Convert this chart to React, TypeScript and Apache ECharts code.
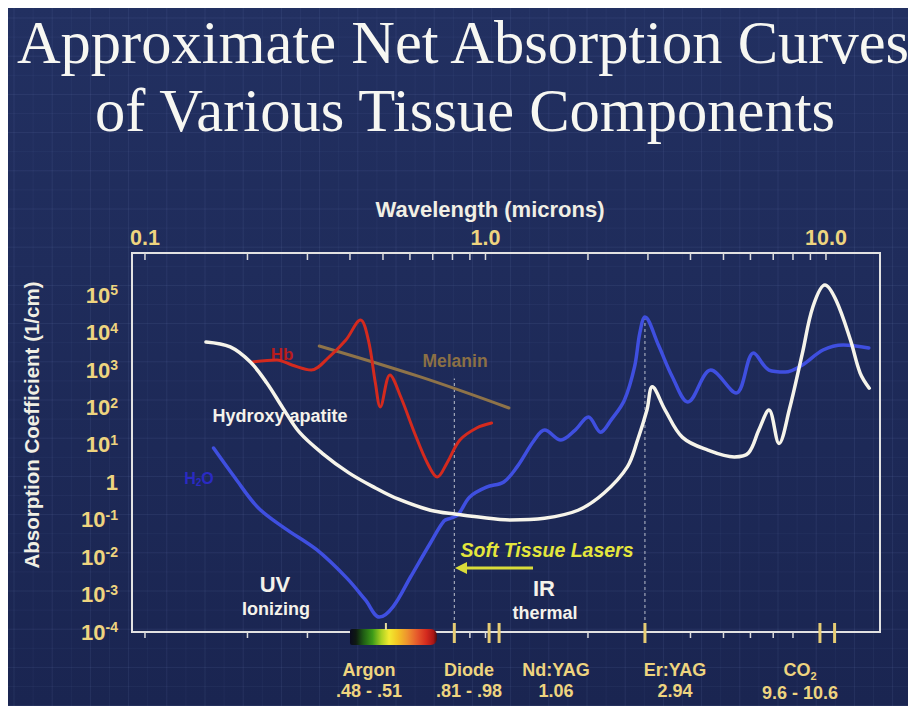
import { useEffect, useRef } from 'react';
import * as echarts from 'echarts';

// Wavelength (microns) vs net absorption coefficient (1/cm)
const hydroxyapatite: [number, number][] = [
  [0.151, 5700], [0.178, 4200], [0.204, 1650], [0.228, 455], [0.254, 98],
  [0.284, 22], [0.331, 6.1], [0.397, 1.8], [0.475, 0.71], [0.553, 0.36],
  [0.689, 0.18], [0.824, 0.14], [0.942, 0.12], [1.18, 0.099], [1.49, 0.11],
  [1.87, 0.18], [2.23, 0.52], [2.61, 2.6], [2.8, 14], [2.98, 86], [3.09, 360],
  [3.37, 86], [3.79, 16], [4.5, 7.3], [5.38, 4.8], [5.92, 6.1], [6.35, 25],
  [6.8, 86], [7.28, 11], [7.8, 86], [8.53, 2900], [9.15, 49000], [9.93, 190000],
  [10.7, 75000], [11.8, 6400], [12.6, 840], [13.4, 330],
];

const water: [number, number][] = [
  [0.159, 8.3], [0.184, 1.31], [0.215, 0.21], [0.257, 0.06], [0.32, 0.0156],
  [0.391, 0.0028], [0.444, 0.00072], [0.488, 0.00025], [0.535, 0.00047],
  [0.603, 0.003], [0.689, 0.024], [0.756, 0.093], [0.79, 0.11], [0.83, 0.135],
  [0.899, 0.41], [1.007, 0.75], [1.132, 1.03], [1.238, 2.6], [1.392, 13.6],
  [1.492, 25], [1.665, 13.6], [1.834, 25], [2.006, 56], [2.179, 22], [2.34, 47],
  [2.56, 160], [2.74, 1220], [2.84, 9900], [2.94, 26400], [3.22, 4700],
  [3.54, 660], [3.93, 141], [4.59, 1010], [5.45, 246], [6.13, 2880], [6.8, 1010],
  [7.59, 895], [8.53, 1380], [9.8, 3470], [11.24, 4720], [13.36, 3920],
];

const hemoglobin: [number, number][] = [
  [0.2065, 1660], [0.244, 1880], [0.27, 1380], [0.308, 1010], [0.347, 2250],
  [0.389, 6400], [0.4295, 22000], [0.453, 6400], [0.475, 455], [0.491, 104],
  [0.524, 745], [0.564, 192], [0.619, 21], [0.675, 3.3], [0.722, 1.39],
  [0.771, 3.3], [0.841, 13.6], [0.942, 28.5], [1.042, 38.7],
];

const melanin: [number, number][] = [
  [0.325, 4440], [0.644, 660], [1.172, 97.5],
];

// axis ticks
const xTickValues = [0.1, 1, 10];
const xMinorTicksTop = [0.1, 0.2, 0.3, 0.4, 0.5, 0.6, 0.7, 0.8, 0.9, 1, 2, 3, 4, 5, 6, 7, 8, 9, 10];
const xMinorTicksBottom = [0.1, 0.2, 0.3, 0.9, 1, 2, 4, 5, 6, 7, 8];
const yTickExponents = [-4, -3, -2, -1, 0, 1, 2, 3, 4, 5];

// laser lines marked under the wavelength axis
const laserNames = ['Argon', 'Diode', 'Nd:YAG', 'Er:YAG', 'CO2'];
const laserRanges = ['.48 - .51', '.81 - .98', '1.06', '2.94', '9.6 - 10.6'];
const laserTicks = [0.81, 1.06, 2.94, 9.6, 10.6];
const laserTickDouble = [false, true, false, false, false];
const argonTick = 0.51;
const visibleBand = [0.4, 0.72];
// dotted guides: [wavelength, top absorption]
const guideLines: [number, number][] = [[0.81, 600], [2.94, 26400]];

const X_MIN = 0.0916;
const X_MAX = 14.41;
const Y_MIN = 1e-4;
const Y_MAX = 1.36e6;

const SANS = '"Liberation Sans", Arial, Helvetica, sans-serif';
const SERIF = '"Liberation Serif", "Times New Roman", serif';
const GOLD = '#eed47f';
const W = 908;
const H = 698;
const laserLabelX = [361, 461, 548, 667, 792];

function isDecade(v: number, allowed: number[]) {
  const l = Math.log10(v);
  const r = Math.round(l);
  return Math.abs(l - r) < 1e-6 && allowed.includes(r) ? r : null;
}

function backgroundGrid() {
  const els: any[] = [];
  const step = 19.1;
  let i = 0;
  for (let x = 6; x < W; x += step, i++) {
    els.push({
      type: 'line', silent: true, z: -5,
      shape: { x1: x, y1: 0, x2: x, y2: H },
      style: { stroke: i % 2 ? 'rgba(150,170,230,0.05)' : 'rgba(150,170,230,0.10)', lineWidth: 1 },
    });
  }
  i = 0;
  for (let y = 10; y < H; y += step, i++) {
    els.push({
      type: 'line', silent: true, z: -5,
      shape: { x1: 0, y1: y, x2: W, y2: y },
      style: { stroke: i % 2 ? 'rgba(150,170,230,0.05)' : 'rgba(150,170,230,0.10)', lineWidth: 1 },
    });
  }
  return els;
}

function text(x: number, y: number, t: string, size: number, fill: string, extra: any = {}) {
  return {
    type: 'text', x, y, z: 1, silent: true,
    style: {
      text: t, fill, fontSize: size, fontWeight: 'bold', fontFamily: SANS,
      align: 'center', verticalAlign: 'middle', ...extra,
    },
  };
}

function buildOption(): any {
  const curve = (name: string, data: [number, number][], color: string, width: number) => ({
    name, type: 'line', data, smooth: 0.35, showSymbol: false, symbol: 'none', silent: true,
    lineStyle: { color, width, cap: 'round', join: 'round' },
  });

  const graphics: any[] = [
    ...backgroundGrid(),
    {
      type: 'text', x: 455, y: 34, z: 1, silent: true,
      style: { text: 'Approximate Net Absorption Curves', fill: '#f7f7f2', fontSize: 60.5, fontFamily: SERIF, align: 'center', verticalAlign: 'middle' },
    },
    {
      type: 'text', x: 457, y: 102, z: 1, silent: true,
      style: { text: 'of Various Tissue Components', fill: '#f7f7f2', fontSize: 60.5, fontFamily: SERIF, align: 'center', verticalAlign: 'middle' },
    },
    text(482, 201, 'Wavelength (microns)', 22, '#f1efe4'),
    { ...text(23, 417, 'Absorption Coefficient (1/cm)', 20.5, '#f1efe4'), rotation: Math.PI / 2 },
    text(274, 346, 'Hb', 17, '#b81c1c'),
    text(447, 353, 'Melanin', 17.5, '#8b7045'),
    text(272, 408, 'Hydroxy apatite', 18, '#f4f2ea'),
    {
      type: 'text', x: 191, y: 470, z: 1, silent: true,
      style: {
        text: '{a|H}{b|2}{a|O}', align: 'center', verticalAlign: 'middle',
        rich: {
          a: { fontSize: 16, fontWeight: 'bold', fontFamily: SANS, fill: '#2a2ac4', lineHeight: 19 },
          b: { fontSize: 10, fontWeight: 'bold', fontFamily: SANS, fill: '#2a2ac4', verticalAlign: 'bottom', lineHeight: 10 },
        },
      },
    },
    text(267, 576, 'UV', 22, '#f4f2ea'),
    text(268, 601, 'Ionizing', 18, '#f4f2ea'),
    text(536, 580, 'IR', 22, '#f4f2ea'),
    text(537, 605, 'thermal', 18, '#f4f2ea'),
    text(539, 542, 'Soft Tissue Lasers', 19.5, '#e4e63c', { fontStyle: 'italic' }),
    {
      type: 'line', z: 1, silent: true,
      shape: { x1: 525, y1: 560, x2: 455, y2: 560 },
      style: { stroke: '#d9dc3a', lineWidth: 3 },
    },
    {
      type: 'polygon', z: 1, silent: true,
      shape: { points: [[447, 560], [459, 554], [459, 566]] },
      style: { fill: '#d9dc3a' },
    },
  ];

  laserNames.forEach((n, i) => {
    const x = laserLabelX[i];
    if (n === 'CO2') {
      graphics.push({
        type: 'text', x, y: 662, z: 1, silent: true,
        style: {
          text: '{a|CO}{b|2}', align: 'center', verticalAlign: 'middle',
          rich: {
            a: { fontSize: 18, fontWeight: 'bold', fontFamily: SANS, fill: GOLD, lineHeight: 22 },
            b: { fontSize: 11, fontWeight: 'bold', fontFamily: SANS, fill: GOLD, verticalAlign: 'bottom', lineHeight: 11 },
          },
        },
      });
    } else {
      graphics.push(text(x, 662, n, 18, GOLD));
    }
    graphics.push(text(x, n === 'CO2' ? 685 : 683, laserRanges[i], 18, GOLD));
  });

  const tickStyle = { stroke: '#dcdcdc', lineWidth: 1.5 };

  return {
    animation: false,
    backgroundColor: new echarts.graphic.LinearGradient(0, 0, 0, 1, [
      { offset: 0, color: '#223061' },
      { offset: 1, color: '#1a2551' },
    ]),
    grid: {
      left: 124, top: 245, width: 748, height: 379, show: true,
      borderColor: '#e2e2e2', borderWidth: 2, backgroundColor: 'transparent', z: 3,
    },
    xAxis: {
      type: 'log', logBase: 10, min: X_MIN, max: X_MAX, position: 'top',
      axisLine: { show: false }, axisTick: { show: false }, splitLine: { show: false },
      axisLabel: {
        margin: 4, color: GOLD, fontSize: 21.5, fontWeight: 'bold', fontFamily: SANS,
        formatter: (v: number) => {
          const r = isDecade(v, xTickValues.map((t) => Math.round(Math.log10(t))));
          return r === null ? '' : v.toFixed(1);
        },
      },
    },
    yAxis: {
      type: 'log', logBase: 10, min: Y_MIN, max: Y_MAX, interval: 1,
      axisLine: { show: false }, axisTick: { show: false }, splitLine: { show: false },
      axisLabel: {
        margin: 14, color: GOLD,
        formatter: (v: number) => {
          const r = isDecade(v, yTickExponents);
          if (r === null) return '';
          return r === 0 ? '{b|1}' : `{b|10}{s|${r}}`;
        },
        rich: {
          b: { fontSize: 22, fontWeight: 'bold', fontFamily: SANS, color: GOLD, lineHeight: 24 },
          s: { fontSize: 14, fontWeight: 'bold', fontFamily: SANS, color: GOLD, verticalAlign: 'top', lineHeight: 14 },
        },
      },
    },
    graphic: { elements: graphics },
    series: [
      ...guideLines.map(([x, top]) => ({
        type: 'line', silent: true, symbol: 'none', z: 1,
        data: [[x, Y_MIN], [x, top]],
        lineStyle: { color: '#b9bdca', width: 1, type: [3, 3] },
      })),
      curve('Melanin', melanin, '#8e7349', 3),
      curve('Hb', hemoglobin, '#d42a1e', 3),
      curve('H2O', water, '#3f4fe0', 3.5),
      curve('Hydroxyapatite', hydroxyapatite, '#f6f4ea', 3.5),
      {
        type: 'custom', silent: true, clip: false, z: 5,
        data: xMinorTicksTop.map((v) => [v, 1]),
        renderItem: (params: any, api: any) => {
          const x = api.coord([api.value(0), 1])[0];
          const cs = params.coordSys;
          return { type: 'line', shape: { x1: x, y1: cs.y, x2: x, y2: cs.y + 7 }, style: tickStyle };
        },
      },
      {
        type: 'custom', silent: true, clip: false, z: 5,
        data: xMinorTicksBottom.map((v) => [v, 1]),
        renderItem: (params: any, api: any) => {
          const x = api.coord([api.value(0), 1])[0];
          const cs = params.coordSys;
          const b = cs.y + cs.height;
          return { type: 'line', shape: { x1: x, y1: b, x2: x, y2: b + 6 }, style: tickStyle };
        },
      },
      {
        type: 'custom', silent: true, clip: false, z: 6,
        data: [[visibleBand[0], 1, visibleBand[1]]],
        renderItem: (params: any, api: any) => {
          const x0 = api.coord([api.value(0), 1])[0];
          const x1 = api.coord([api.value(2), 1])[0];
          const cs = params.coordSys;
          const b = cs.y + cs.height;
          return {
            type: 'rect',
            shape: { x: x0, y: b - 3, width: x1 - x0, height: 16, r: [2, 6, 6, 2] },
            style: {
              fill: new echarts.graphic.LinearGradient(0, 0, 1, 0, [
                { offset: 0, color: '#0a0a1e' },
                { offset: 0.07, color: '#0f1a12' },
                { offset: 0.15, color: '#1e5a14' },
                { offset: 0.26, color: '#3d9b18' },
                { offset: 0.36, color: '#a8d022' },
                { offset: 0.45, color: '#f2ea30' },
                { offset: 0.55, color: '#f2c424' },
                { offset: 0.66, color: '#ee922e' },
                { offset: 0.77, color: '#e65a2c' },
                { offset: 0.88, color: '#d42a1e' },
                { offset: 0.96, color: '#a81616' },
                { offset: 1, color: '#4a0e10' },
              ]),
            },
          };
        },
      },
      {
        type: 'custom', silent: true, clip: false, z: 7,
        data: [[argonTick, 1]],
        renderItem: (params: any, api: any) => {
          const x = api.coord([api.value(0), 1])[0];
          const cs = params.coordSys;
          const b = cs.y + cs.height;
          return { type: 'line', shape: { x1: x, y1: b - 9, x2: x, y2: b - 2 }, style: { stroke: '#e6dca0', lineWidth: 2 } };
        },
      },
      {
        type: 'custom', silent: true, clip: false, z: 7,
        data: laserTicks.map((v, i) => [v, 1, laserTickDouble[i] ? 1 : 0]),
        renderItem: (params: any, api: any) => {
          const x = api.coord([api.value(0), 1])[0];
          const cs = params.coordSys;
          const b = cs.y + cs.height;
          const offs = api.value(2) ? [-5, 5] : [0];
          return {
            type: 'group',
            children: offs.map((o) => ({
              type: 'line',
              shape: { x1: x + o, y1: b - 9, x2: x + o, y2: b + 11 },
              style: { stroke: '#e6cc74', lineWidth: 3 },
            })),
          };
        },
      },
    ],
  };
}

export default function App() {
  const ref = useRef<HTMLDivElement>(null);
  useEffect(() => {
    document.documentElement.style.overflow = 'hidden';
    document.body.style.overflow = 'hidden';
    const chart = echarts.init(ref.current!, null, { renderer: 'svg' });
    chart.setOption(buildOption());
    return () => chart.dispose();
  }, []);
  return <div ref={ref} style={{ width: W, height: H }} />;
}
